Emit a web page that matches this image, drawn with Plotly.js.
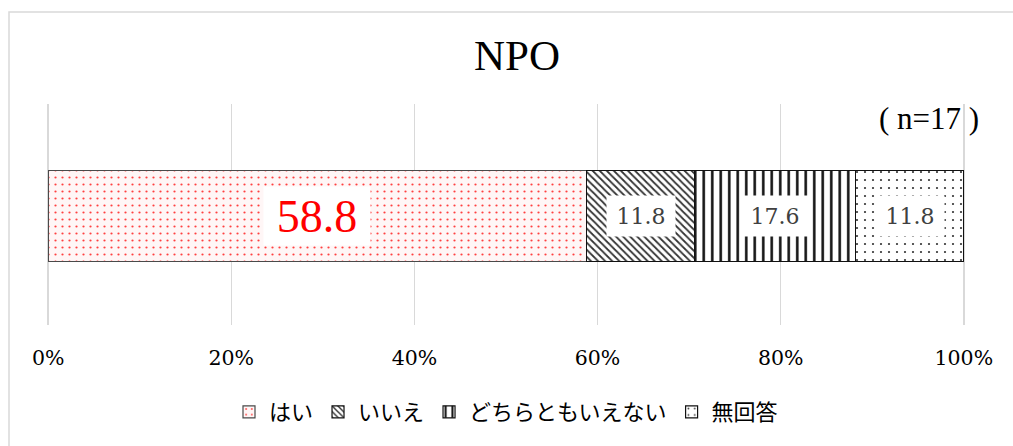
<!DOCTYPE html>
<html>
<head>
<meta charset="utf-8">
<script src="https://cdn.plot.ly/plotly-3.0.1.min.js"></script>
<style>html,body{margin:0;padding:0;background:#fff;}</style>
</head>
<body>
<div id="chart" style="width:1013px;height:446px;"></div>
<script>
const categories = ["NPO"];
const seriesNames = ["はい", "いいえ", "どちらともいえない", "無回答"];
const seriesValues = [58.8, 11.8, 17.6, 11.8];
const tickValues = [0, 20, 40, 60, 80, 100];
const tickLabels = ["0%", "20%", "40%", "60%", "80%", "100%"];
const sampleNote = "( n=17 )";

const patterns = [
  {shape: ".", bgcolor: "#fff6f6", fgcolor: "#ff4040", size: 7, solidity: 0.08, fillmode: "replace"},
  {shape: "\\", bgcolor: "#ffffff", fgcolor: "#333333", size: 5, solidity: 0.35, fillmode: "replace"},
  {shape: "|", bgcolor: "#ffffff", fgcolor: "#111111", size: 8.5, solidity: 0.3, fillmode: "replace"},
  {shape: ".", bgcolor: "#ffffff", fgcolor: "#333333", size: 8, solidity: 0.06, fillmode: "replace"}
];
const lineColors = ["#4a4a4a", "#111111", "#111111", "#111111"];

const traces = seriesNames.map((name, i) => ({
  type: "bar",
  orientation: "h",
  name: name,
  y: categories,
  x: [seriesValues[i]],
  width: 0.41,
  marker: {color: patterns[i].bgcolor, pattern: patterns[i], line: {color: lineColors[i], width: 1.2}},
  hoverinfo: "skip"
}));

const annotations = [];
let cum = 0;
seriesValues.forEach((v, i) => {
  const big = i === 0;
  annotations.push({
    x: cum + v / 2, y: categories[0], xref: "x", yref: "y",
    text: v.toFixed(1), showarrow: false,
    font: big ? {family: "Liberation Serif", size: 46, color: "#ff0000"}
              : {family: "DejaVu Serif", size: 22, color: "#404040"},
    bgcolor: "#ffffff", borderpad: 0,
    width: big ? 106 : 68, height: big ? 58 : 40
  });
  cum += v;
});
annotations.push({
  xref: "paper", yref: "paper", x: (926 - 48) / 916, y: (325 - 118) / 221,
  text: sampleNote, showarrow: false, xanchor: "center", yanchor: "middle",
  font: {family: "Liberation Serif", size: 31, color: "#000"}
});

const layout = {
  width: 1013, height: 446,
  margin: {l: 45, r: 46, t: 104, b: 121},
  paper_bgcolor: "#fff", plot_bgcolor: "#fff",
  barmode: "stack",
  bargap: 0,
  title: {text: categories[0], x: 0.512, xref: "paper", xanchor: "center", y: 0.876, yanchor: "middle",
          font: {family: "Liberation Serif", size: 43, color: "#000"}},
  xaxis: {range: [-0.35, 100.35], tickvals: tickValues, ticktext: tickLabels, showgrid: true,
          gridcolor: "#d9d9d9", gridwidth: 1.5, zeroline: false, showline: false, ticks: "",
          ticklabelstandoff: 18, fixedrange: true,
          tickfont: {family: "DejaVu Serif", size: 20.5, color: "#000"}},
  yaxis: {range: [-0.493, 0.507], showticklabels: false, showgrid: false, zeroline: false, fixedrange: true},
  showlegend: true,
  legend: {orientation: "h", x: 0.5, xanchor: "center", y: (325 - 412) / 221, yanchor: "middle",
           font: {family: "Noto Sans CJK JP", size: 22, color: "#000"}, itemwidth: 30, tracegroupgap: 0,
           traceorder: "normal"},
  annotations: annotations,
  shapes: [{type: "rect", xref: "paper", yref: "paper",
            x0: (9 - 45) / 922, x1: (1020 - 45) / 922, y0: (325 - 460) / 221, y1: (325 - 12) / 221,
            line: {color: "#d9d9d9", width: 1.5}, fillcolor: "rgba(0,0,0,0)", layer: "below"}]
};

Plotly.newPlot("chart", traces, layout, {staticPlot: true, displayModeBar: false});
</script>
</body>
</html>
